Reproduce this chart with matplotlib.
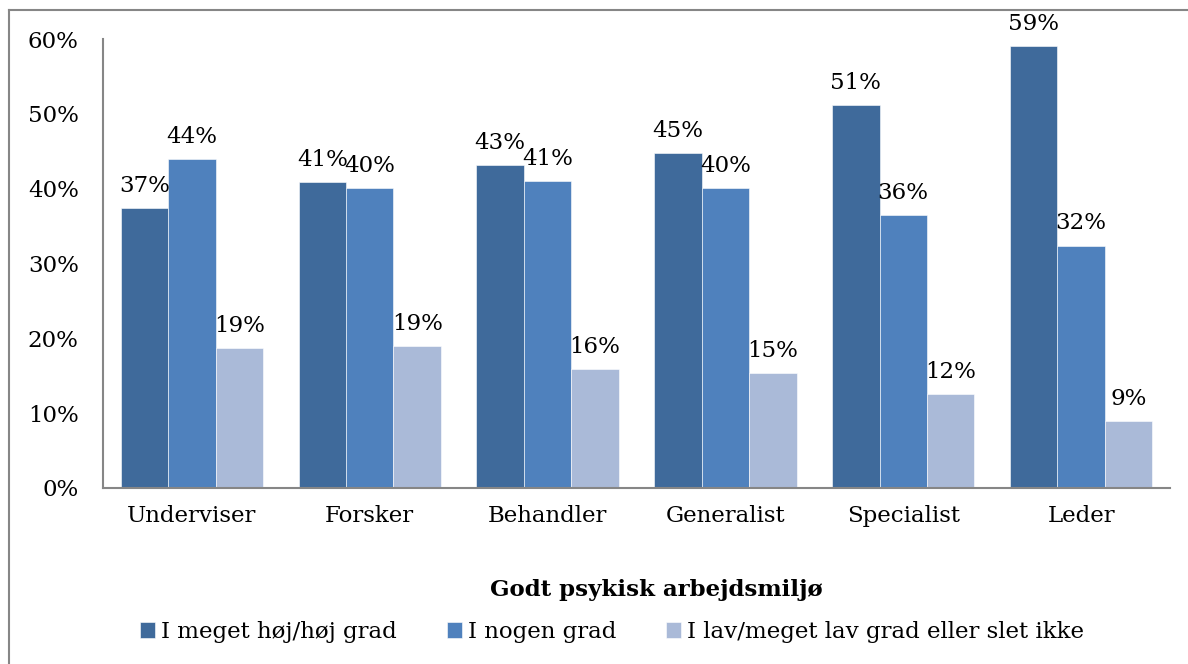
import matplotlib
matplotlib.use("Agg")
import matplotlib.pyplot as plt
from matplotlib.lines import Line2D
import numpy as np

categories = ["Underviser", "Forsker", "Behandler", "Generalist", "Specialist", "Leder"]
series_names = ["I meget høj/høj grad", "I nogen grad", "I lav/meget lav grad eller slet ikke"]
high = [37.4, 40.9, 43.2, 44.8, 51.2, 59.0]
some = [44.0, 40.1, 41.0, 40.1, 36.5, 32.4]
low = [18.7, 19.0, 15.9, 15.4, 12.6, 9.0]
labels_high = ["37%", "41%", "43%", "45%", "51%", "59%"]
labels_some = ["44%", "40%", "41%", "40%", "36%", "32%"]
labels_low = ["19%", "19%", "16%", "15%", "12%", "9%"]
yticks = [0, 10, 20, 30, 40, 50, 60]
ytick_labels = ["0%", "10%", "20%", "30%", "40%", "50%", "60%"]
xlabel = "Godt psykisk arbejdsmiljø"
colors = ["#3F6A9B", "#4F81BD", "#AABAD8"]

plt.rcParams['font.family'] = ['DejaVu Serif']
FS = 16.5

W, H = 1188, 664
fig = plt.figure(figsize=(W / 100, H / 100), dpi=100)
ax = fig.add_axes([103 / W, 1 - 488 / H, (1170 - 103) / W, (488 - 39) / H])

x = np.arange(len(categories))
bw = 0.8 / 3
all_vals = [high, some, low]
all_labels = [labels_high, labels_some, labels_low]
for j, (vals, labs) in enumerate(zip(all_vals, all_labels)):
    pos = x + (j - 1) * bw
    bars = ax.bar(pos, vals, width=bw, color=colors[j], edgecolor="white",
                  linewidth=0.4, label=series_names[j], zorder=2)
    for b, lab in zip(bars, labs):
        ax.annotate(lab, (b.get_x() + b.get_width() / 2, b.get_height()),
                    xytext=(0, 8), textcoords="offset points",
                    ha="center", va="bottom", fontsize=FS, color="black")

ax.set_xlim(-0.5, len(categories) - 0.5)
ax.set_ylim(0, 60)
ax.set_yticks(yticks)
ax.set_yticklabels(ytick_labels, fontsize=FS)
ax.set_xticks(x)
ax.set_xticklabels(categories, fontsize=FS)
ax.tick_params(axis="both", length=0)
ax.tick_params(axis="y", pad=17.5)
ax.tick_params(axis="x", pad=12)
for s in ["top", "right"]:
    ax.spines[s].set_visible(False)
for s in ["left", "bottom"]:
    ax.spines[s].set_color("#868686")
    ax.spines[s].set_linewidth(1.5)

fig.text(656 / W, 1 - 590 / H, xlabel, ha="center", va="center",
         fontsize=FS, fontweight="bold")

handles, labs = ax.get_legend_handles_labels()
fig.legend(handles, labs, loc="center", bbox_to_anchor=(612 / W, 1 - 632 / H),
           ncol=3, frameon=False, fontsize=FS, handlelength=0.65,
           handleheight=0.65, handletextpad=0.25, columnspacing=2.2)

# outer frame lines (left and top)
fig.add_artist(Line2D([8.5 / W, 8.5 / W], [0, 1 - 10 / H], transform=fig.transFigure,
                      color="#868686", linewidth=1.5))
fig.add_artist(Line2D([8.5 / W, 1], [1 - 10 / H, 1 - 10 / H], transform=fig.transFigure,
                      color="#868686", linewidth=1.5))

fig.savefig("out.png", dpi=100)
